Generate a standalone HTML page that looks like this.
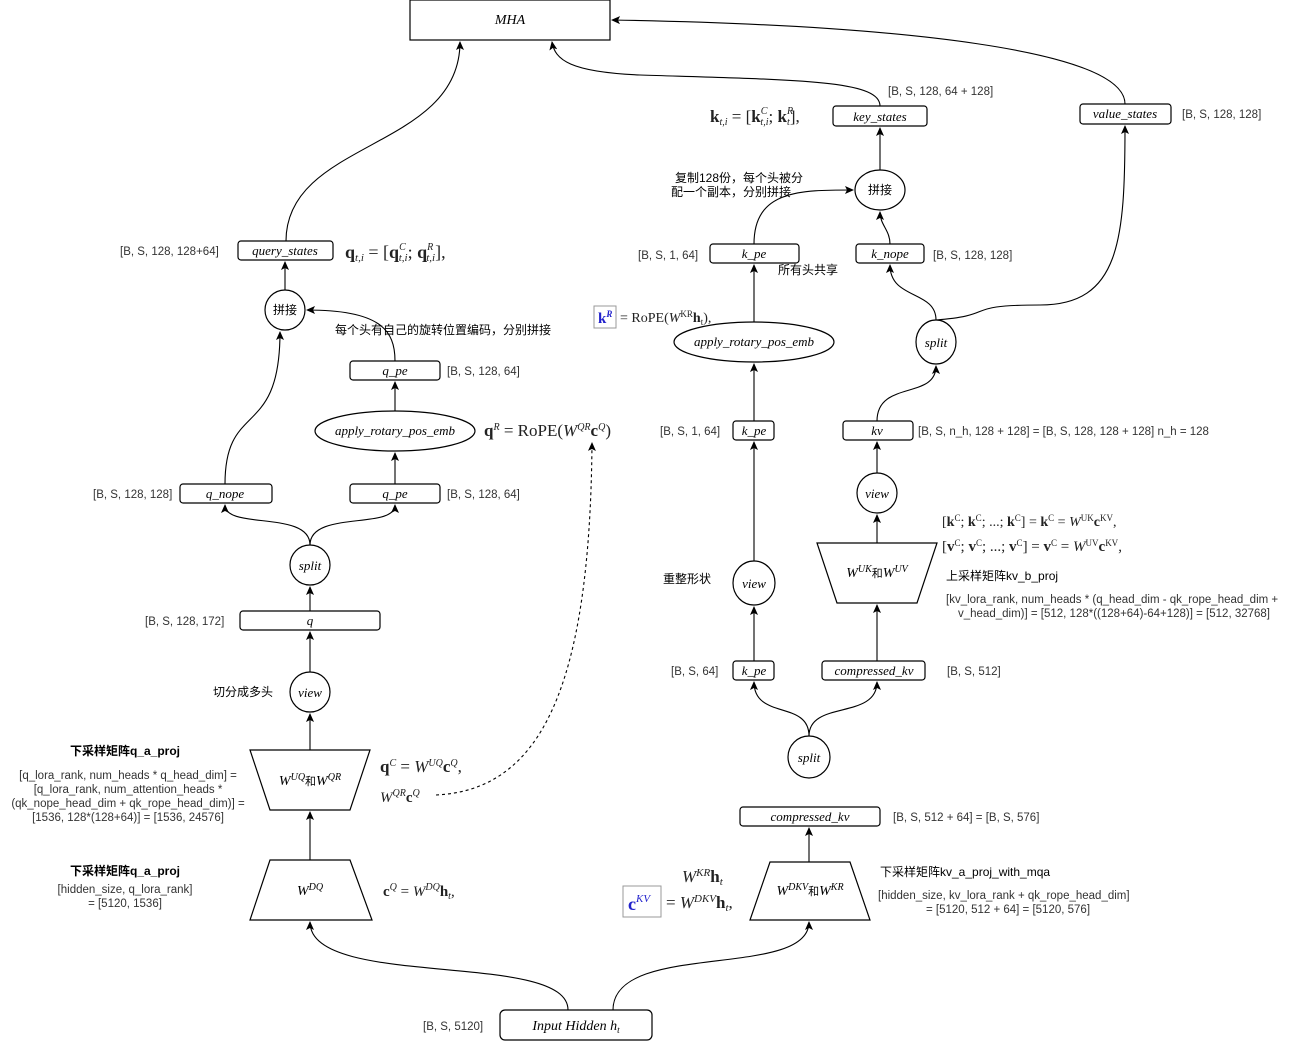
<!DOCTYPE html>
<html><head><meta charset="utf-8"><style>
body{margin:0;background:#fff}
svg{display:block}
.t{font-family:"Liberation Serif",serif;font-style:italic;font-size:13px;fill:#000}
.s{font-family:"Liberation Sans","Noto Sans CJK SC",sans-serif;font-size:11.5px;fill:#333}
.c{font-family:"Liberation Sans","Noto Sans CJK SC",sans-serif;font-size:12px;fill:#000}
.f{font-family:"Liberation Serif",serif;font-size:17px;fill:#222}
</style></head><body>
<svg width="1308" height="1046" viewBox="0 0 1308 1046" xmlns="http://www.w3.org/2000/svg">
<defs><marker id="a" markerWidth="10" markerHeight="10" refX="8" refY="4" orient="auto" markerUnits="userSpaceOnUse"><path d="M0,0 L9,4 L0,8 L2,4 z" fill="#000"/></marker></defs>
<g fill="#fff" stroke="#000" stroke-width="1.2">
<rect x="410" y="0" width="200" height="40"/>
<rect x="238" y="241" width="95" height="19" rx="3"/>
<circle cx="285" cy="310" r="20"/>
<rect x="350" y="361" width="90" height="19" rx="3"/>
<ellipse cx="395" cy="431" rx="80" ry="20"/>
<rect x="180" y="484" width="92" height="19" rx="3"/>
<rect x="350" y="484" width="90" height="19" rx="3"/>
<circle cx="310" cy="565" r="20"/>
<rect x="240" y="611" width="140" height="19" rx="3"/>
<circle cx="310" cy="692" r="20"/>
<path d="M250,750 L370,750 L350,810 L270,810 Z"/>
<path d="M270,860 L350,860 L372,920 L250,920 Z"/>
<rect x="500" y="1010" width="152" height="30" rx="5"/>
<rect x="833" y="106" width="94" height="20" rx="3"/>
<rect x="1080" y="104" width="91" height="20" rx="3"/>
<ellipse cx="880" cy="190" rx="25" ry="20"/>
<rect x="710" y="244" width="89" height="19" rx="3"/>
<rect x="856" y="244" width="68" height="19" rx="3"/>
<ellipse cx="754" cy="342" rx="80" ry="20"/>
<ellipse cx="936" cy="342" rx="20" ry="22"/>
<rect x="733" y="421" width="41" height="19" rx="3"/>
<rect x="843" y="421" width="70" height="19" rx="3"/>
<circle cx="877" cy="493" r="20"/>
<path d="M817,543 L937,543 L917,603 L837,603 Z"/>
<ellipse cx="754" cy="583" rx="21" ry="22"/>
<rect x="733" y="661" width="41" height="19" rx="3"/>
<rect x="822" y="661" width="103" height="19" rx="3"/>
<circle cx="809" cy="757" r="21"/>
<rect x="740" y="807" width="140" height="19" rx="3"/>
<path d="M770,862 L850,862 L870,920 L750,920 Z"/>
</g>
<g fill="none" stroke="#000" stroke-width="1.1" marker-end="url(#a)">
<path d="M286,241 C286,140 460,150 460,42"/>
<path d="M285,290 L285,262"/>
<path d="M395,361 C395,330 380,310 307,310"/>
<path d="M225,484 C225,400 280,440 280,332"/>
<path d="M395,411 L395,382"/>
<path d="M395,484 L395,453"/>
<path d="M310,545 C310,510 225,530 225,505"/>
<path d="M310,545 C310,510 395,530 395,505"/>
<path d="M310,611 L310,587"/>
<path d="M310,672 L310,632"/>
<path d="M310,750 L310,714"/>
<path d="M310,860 L310,812"/>
<path d="M568,1010 C568,950 310,990 310,922"/>
<path d="M613,1010 C613,940 809,980 809,922"/>
<path d="M809,862 L809,828"/>
<path d="M809,736 C809,700 877,720 877,682"/>
<path d="M809,736 C809,700 754,720 754,682"/>
<path d="M754,661 L754,607"/>
<path d="M754,561 L754,442"/>
<path d="M754,421 L754,364"/>
<path d="M754,322 L754,265"/>
<path d="M754,244 C754,190 800,190 853,190"/>
<path d="M877,661 L877,605"/>
<path d="M877,543 L877,515"/>
<path d="M877,473 L877,442"/>
<path d="M877,421 C877,380 936,400 936,366"/>
<path d="M936,320 C936,290 890,300 890,265"/>
<path d="M890,244 C890,230 880,225 880,212"/>
<path d="M880,170 L880,128"/>
<path d="M880,106 C880,80 800,80 640,75 C570,72 555,60 552,42"/>
<path d="M936,320 C1000,315 960,305 1040,305 C1120,305 1125,240 1125,126"/>
<path d="M1125,104 C1125,50 900,25 612,20"/>
<path d="M436,795 C540,790 590,690 592,443" stroke-dasharray="3,3"/>
</g>
<g class="t" text-anchor="middle">
<text x="510" y="24" font-size="14">MHA</text>
<text x="285" y="255">query_states</text>
<text x="395" y="375">q_pe</text>
<text x="395" y="435">apply_rotary_pos_emb</text>
<text x="225" y="498">q_nope</text>
<text x="395" y="498">q_pe</text>
<text x="310" y="570">split</text>
<text x="310" y="625">q</text>
<text x="310" y="697">view</text>
<text x="310" y="785" font-size="14">W<tspan font-size="10" dy="-5">UQ</tspan><tspan dy="5" font-style="normal" font-size="11">和</tspan>W<tspan font-size="10" dy="-5">QR</tspan></text>
<text x="310" y="895" font-size="14">W<tspan font-size="10" dy="-5">DQ</tspan></text>
<text x="576" y="1030" font-size="14">Input Hidden h<tspan font-size="9" dy="3">t</tspan></text>
<text x="880" y="121">key_states</text>
<text x="1125" y="118">value_states</text>
<text x="754" y="258">k_pe</text>
<text x="890" y="258">k_nope</text>
<text x="754" y="346">apply_rotary_pos_emb</text>
<text x="936" y="347">split</text>
<text x="754" y="435">k_pe</text>
<text x="877" y="435">kv</text>
<text x="877" y="498">view</text>
<text x="877" y="577" font-size="14">W<tspan font-size="10" dy="-5">UK</tspan><tspan dy="5" font-style="normal" font-size="11">和</tspan>W<tspan font-size="10" dy="-5">UV</tspan></text>
<text x="754" y="588">view</text>
<text x="754" y="675">k_pe</text>
<text x="874" y="675">compressed_kv</text>
<text x="809" y="762">split</text>
<text x="810" y="821">compressed_kv</text>
<text x="810" y="895" font-size="14">W<tspan font-size="10" dy="-5">DKV</tspan><tspan dy="5" font-style="normal" font-size="11">和</tspan>W<tspan font-size="10" dy="-5">KR</tspan></text>
</g>
<g class="c" text-anchor="middle">
<text x="285" y="314">拼接</text>
<text x="880" y="194">拼接</text>
</g>
<g class="s">
<text x="120" y="255">[B, S, 128, 128+64]</text>
<text x="447" y="375">[B, S, 128, 64]</text>
<text x="93" y="498">[B, S, 128, 128]</text>
<text x="447" y="498">[B, S, 128, 64]</text>
<text x="145" y="625">[B, S, 128, 172]</text>
<text x="423" y="1030">[B, S, 5120]</text>
<text x="888" y="95">[B, S, 128,  64 + 128]</text>
<text x="1182" y="118">[B, S, 128, 128]</text>
<text x="638" y="259">[B, S, 1,  64]</text>
<text x="933" y="259">[B, S, 128, 128]</text>
<text x="660" y="435">[B, S, 1,  64]</text>
<text x="918" y="435">[B, S, n_h, 128 + 128] = [B, S, 128, 128 + 128]    n_h = 128</text>
<text x="671" y="675">[B, S, 64]</text>
<text x="947" y="675">[B, S, 512]</text>
<text x="893" y="821">[B, S, 512 + 64] = [B, S, 576]</text>
<text x="946" y="603">[kv_lora_rank,  num_heads * (q_head_dim - qk_rope_head_dim +</text>
<text x="958" y="617">v_head_dim)] = [512, 128*((128+64)-64+128)] = [512, 32768]</text>
<text x="878" y="899">[hidden_size,  kv_lora_rank + qk_rope_head_dim]</text>
<text x="926" y="913">= [5120, 512 + 64] = [5120, 576]</text>
<g text-anchor="middle">
<text x="128" y="779">[q_lora_rank, num_heads * q_head_dim] =</text>
<text x="128" y="793">[q_lora_rank, num_attention_heads *</text>
<text x="128" y="807">(qk_nope_head_dim + qk_rope_head_dim)] =</text>
<text x="128" y="821">[1536, 128*(128+64)] = [1536, 24576]</text>
<text x="125" y="893">[hidden_size, q_lora_rank]</text>
<text x="125" y="907">= [5120, 1536]</text>
</g>
</g>
<g class="c">
<text x="335" y="334">每个头有自己的旋转位置编码，分别拼接</text>
<text x="213" y="696">切分成多头</text>
<text x="70" y="755" font-weight="bold">下采样矩阵q_a_proj</text>
<text x="70" y="875" font-weight="bold">下采样矩阵q_a_proj</text>
<text x="675" y="182">复制128份，每个头被分</text>
<text x="671" y="196">配一个副本，分别拼接</text>
<text x="778" y="274">所有头共享</text>
<text x="663" y="583">重整形状</text>
<text x="946" y="580">上采样矩阵kv_b_proj</text>
<text x="880" y="876">下采样矩阵kv_a_proj_with_mqa</text>
</g>
<g class="f">
<text x="345" y="258" font-size="18"><tspan font-weight="bold">q</tspan><tspan font-size="11" font-style="italic" dy="3">t,i</tspan><tspan dy="-3"> = [</tspan><tspan font-weight="bold">q</tspan><tspan font-size="10" font-style="italic" dy="-8">C</tspan><tspan font-size="11" font-style="italic" dx="-7" dy="11">t,i</tspan><tspan dy="-3">; </tspan><tspan font-weight="bold">q</tspan><tspan font-size="10" font-style="italic" dy="-8">R</tspan><tspan font-size="11" font-style="italic" dx="-7" dy="11">t,i</tspan><tspan dy="-3">],</tspan></text>
<text x="484" y="436"><tspan font-weight="bold">q</tspan><tspan font-size="10" font-style="italic" dy="-6">R</tspan><tspan dy="6"> = RoPE(</tspan><tspan font-style="italic">W</tspan><tspan font-size="10" font-style="italic" dy="-6">QR</tspan><tspan dy="6" font-weight="bold">c</tspan><tspan font-size="10" font-style="italic" dy="-6">Q</tspan><tspan dy="6">)</tspan></text>
<text x="380" y="772"><tspan font-weight="bold">q</tspan><tspan font-size="10" font-style="italic" dy="-6">C</tspan><tspan dy="6"> = </tspan><tspan font-style="italic">W</tspan><tspan font-size="10" font-style="italic" dy="-6">UQ</tspan><tspan dy="6" font-weight="bold">c</tspan><tspan font-size="10" font-style="italic" dy="-6">Q</tspan><tspan dy="6">,</tspan></text>
<text x="380" y="802" font-size="15"><tspan font-style="italic">W</tspan><tspan font-size="10" font-style="italic" dy="-6">QR</tspan><tspan dy="6" font-weight="bold">c</tspan><tspan font-size="10" font-style="italic" dy="-6">Q</tspan></text>
<text x="383" y="896" font-size="15"><tspan font-weight="bold">c</tspan><tspan font-size="10" font-style="italic" dy="-6">Q</tspan><tspan dy="6"> = </tspan><tspan font-style="italic">W</tspan><tspan font-size="10" font-style="italic" dy="-6">DQ</tspan><tspan dy="6" font-weight="bold">h</tspan><tspan font-size="10" font-style="italic" dy="3">t</tspan><tspan dy="-3">,</tspan></text>
<text x="710" y="122"><tspan font-weight="bold">k</tspan><tspan font-size="10" font-style="italic" dy="3">t,i</tspan><tspan dy="-3"> = [</tspan><tspan font-weight="bold">k</tspan><tspan font-size="10" font-style="italic" dy="-8">C</tspan><tspan font-size="10" font-style="italic" dx="-7" dy="11">t,i</tspan><tspan dy="-3">; </tspan><tspan font-weight="bold">k</tspan><tspan font-size="10" font-style="italic" dy="-8">R</tspan><tspan font-size="10" font-style="italic" dx="-6" dy="11">t</tspan><tspan dy="-3">],</tspan></text>
<text x="620" y="322" font-size="14">= RoPE(<tspan font-style="italic">W</tspan><tspan font-size="9" dy="-5">KR</tspan><tspan dy="5" font-weight="bold">h</tspan><tspan font-size="9" dy="3">t</tspan><tspan dy="-3">),</tspan></text>
<text x="942" y="526" font-size="14">[<tspan font-weight="bold">k</tspan><tspan font-size="9" dy="-5">C</tspan><tspan dy="5">; </tspan><tspan font-weight="bold">k</tspan><tspan font-size="9" dy="-5">C</tspan><tspan dy="5">; ...; </tspan><tspan font-weight="bold">k</tspan><tspan font-size="9" dy="-5">C</tspan><tspan dy="5">] = </tspan><tspan font-weight="bold">k</tspan><tspan font-size="9" dy="-5">C</tspan><tspan dy="5"> = </tspan><tspan font-style="italic">W</tspan><tspan font-size="9" dy="-5">UK</tspan><tspan dy="5" font-weight="bold">c</tspan><tspan font-size="9" dy="-5">KV</tspan><tspan dy="5">,</tspan></text>
<text x="942" y="551" font-size="15">[<tspan font-weight="bold">v</tspan><tspan font-size="9" dy="-5">C</tspan><tspan dy="5">; </tspan><tspan font-weight="bold">v</tspan><tspan font-size="9" dy="-5">C</tspan><tspan dy="5">; ...; </tspan><tspan font-weight="bold">v</tspan><tspan font-size="9" dy="-5">C</tspan><tspan dy="5">] = </tspan><tspan font-weight="bold">v</tspan><tspan font-size="9" dy="-5">C</tspan><tspan dy="5"> = </tspan><tspan font-style="italic">W</tspan><tspan font-size="9" dy="-5">UV</tspan><tspan dy="5" font-weight="bold">c</tspan><tspan font-size="9" dy="-5">KV</tspan><tspan dy="5">,</tspan></text>
<text x="682" y="882"><tspan font-style="italic">W</tspan><tspan font-size="11" font-style="italic" dy="-6">KR</tspan><tspan dy="6" font-weight="bold">h</tspan><tspan font-size="11" font-style="italic" dy="3">t</tspan></text>
<text x="666" y="908">= <tspan font-style="italic">W</tspan><tspan font-size="11" font-style="italic" dy="-6">DKV</tspan><tspan dy="6" font-weight="bold">h</tspan><tspan font-size="11" font-style="italic" dy="3">t</tspan><tspan dy="-3">,</tspan></text>
</g>
<rect x="594" y="306" width="22" height="22" fill="none" stroke="#999"/>
<text x="598" y="323" font-family="Liberation Serif,serif" font-weight="bold" font-size="15" fill="#22c">k<tspan font-size="9" font-style="italic" dy="-6">R</tspan></text>
<rect x="623" y="886" width="38" height="31" fill="none" stroke="#999"/>
<text x="628" y="910" font-family="Liberation Serif,serif" font-weight="bold" font-size="18" fill="#22c">c<tspan font-size="11" font-style="italic" font-weight="normal" dy="-8">KV</tspan></text>
</svg>
</body></html>
